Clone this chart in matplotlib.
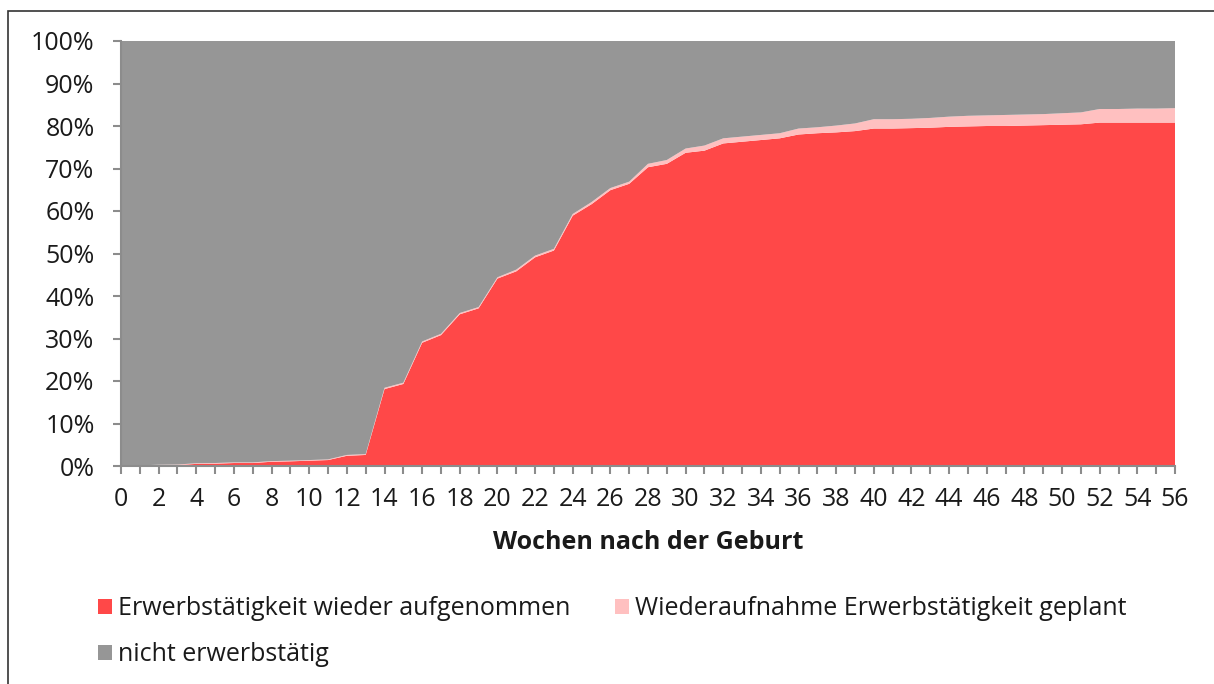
import matplotlib
matplotlib.use('Agg')
import matplotlib.pyplot as plt
from matplotlib.patches import Rectangle, Patch
import numpy as np

plt.rcParams['font.family'] = ['Open Sans', 'DejaVu Sans']

# weeks after birth
weeks = list(range(0, 57))

# share (%) that has resumed work
resumed = [0.0, 0.05, 0.15, 0.2, 0.5, 0.55, 0.7, 0.7, 1.0, 1.1,
           1.25, 1.4, 2.4, 2.6, 18.1, 19.3, 29.0, 30.8, 35.7, 37.1,
           44.1, 45.8, 49.1, 50.7, 58.9, 61.6, 64.9, 66.4, 70.3, 71.1,
           73.7, 74.2, 75.9, 76.3, 76.7, 77.1, 78.0, 78.3, 78.5, 78.8,
           79.4, 79.4, 79.5, 79.6, 79.8, 79.9, 80.0, 80.0, 80.1, 80.2,
           80.3, 80.4, 80.8, 80.8, 80.8, 80.8, 80.8]

# share (%) planning to resume work
planned = [0.1, 0.1, 0.15, 0.15, 0.15, 0.15, 0.15, 0.15, 0.15, 0.15,
           0.15, 0.15, 0.2, 0.2, 0.3, 0.3, 0.3, 0.3, 0.3, 0.3,
           0.3, 0.4, 0.4, 0.4, 0.4, 0.5, 0.5, 0.5, 0.8, 0.9,
           1.0, 1.2, 1.2, 1.2, 1.2, 1.2, 1.4, 1.4, 1.6, 1.8,
           2.2, 2.2, 2.2, 2.3, 2.4, 2.5, 2.5, 2.6, 2.6, 2.6,
           2.7, 2.8, 3.2, 3.2, 3.3, 3.3, 3.4]

not_working = [100 - r - p for r, p in zip(resumed, planned)]

labels = ['Erwerbstätigkeit wieder aufgenommen',
          'Wiederaufnahme Erwerbstätigkeit geplant',
          'nicht erwerbstätig']
colors = ['#FF4848', '#FFC0C0', '#969696']

FS = 18
W, H = 1214, 684
fig = plt.figure(figsize=(W / 100, H / 100), dpi=100)

# outer frame (runs off right and bottom edge)
fig.patches.append(Rectangle((8 / W, -0.05), 1.1, 1 - 11 / H + 0.05,
                             transform=fig.transFigure, fill=False,
                             edgecolor='#333333', linewidth=1.2))

ax = fig.add_axes([121 / W, 1 - 466 / H, (1175 - 121) / W, (466 - 41) / H])
ax.stackplot(weeks, resumed, planned, not_working, colors=colors,
             linewidth=0)

ax.set_xlim(0, 56)
ax.set_ylim(0, 100)
ax.set_yticks(np.arange(0, 101, 10))
ax.set_yticklabels([f'{v}%' for v in range(0, 101, 10)])
ax.set_xticks(range(0, 57, 2))
ax.set_xticks(range(0, 57), minor=True)

for s in ['top', 'right']:
    ax.spines[s].set_visible(False)
for s in ['left', 'bottom']:
    ax.spines[s].set_color('#8c8c8c')
    ax.spines[s].set_linewidth(1.5)

ax.tick_params(axis='y', length=6, width=1.5, color='#8c8c8c', pad=13,
               labelsize=FS, labelcolor='#1a1a1a')
ax.tick_params(axis='x', which='both', length=6, width=1.5,
               color='#8c8c8c', pad=9, labelsize=FS, labelcolor='#1a1a1a')

ax.set_xlabel('Wochen nach der Geburt', fontsize=FS, fontweight='bold',
              labelpad=13, color='#1a1a1a')

# column-major fill: first column = resumed, not working; second = planned
order = [0, 2, 1]
handles = [Patch(facecolor=colors[i], edgecolor='none') for i in order]
fig.legend(handles, [labels[i] for i in order], loc='upper left',
           bbox_to_anchor=(98 / W, 1 - 596 / H), ncol=2, frameon=False,
           fontsize=FS, handlelength=0.55, handleheight=0.55,
           handletextpad=0.25, columnspacing=1.8, labelspacing=0.85,
           borderaxespad=0, borderpad=0, labelcolor='#1a1a1a')

fig.savefig('out.png', dpi=100)
